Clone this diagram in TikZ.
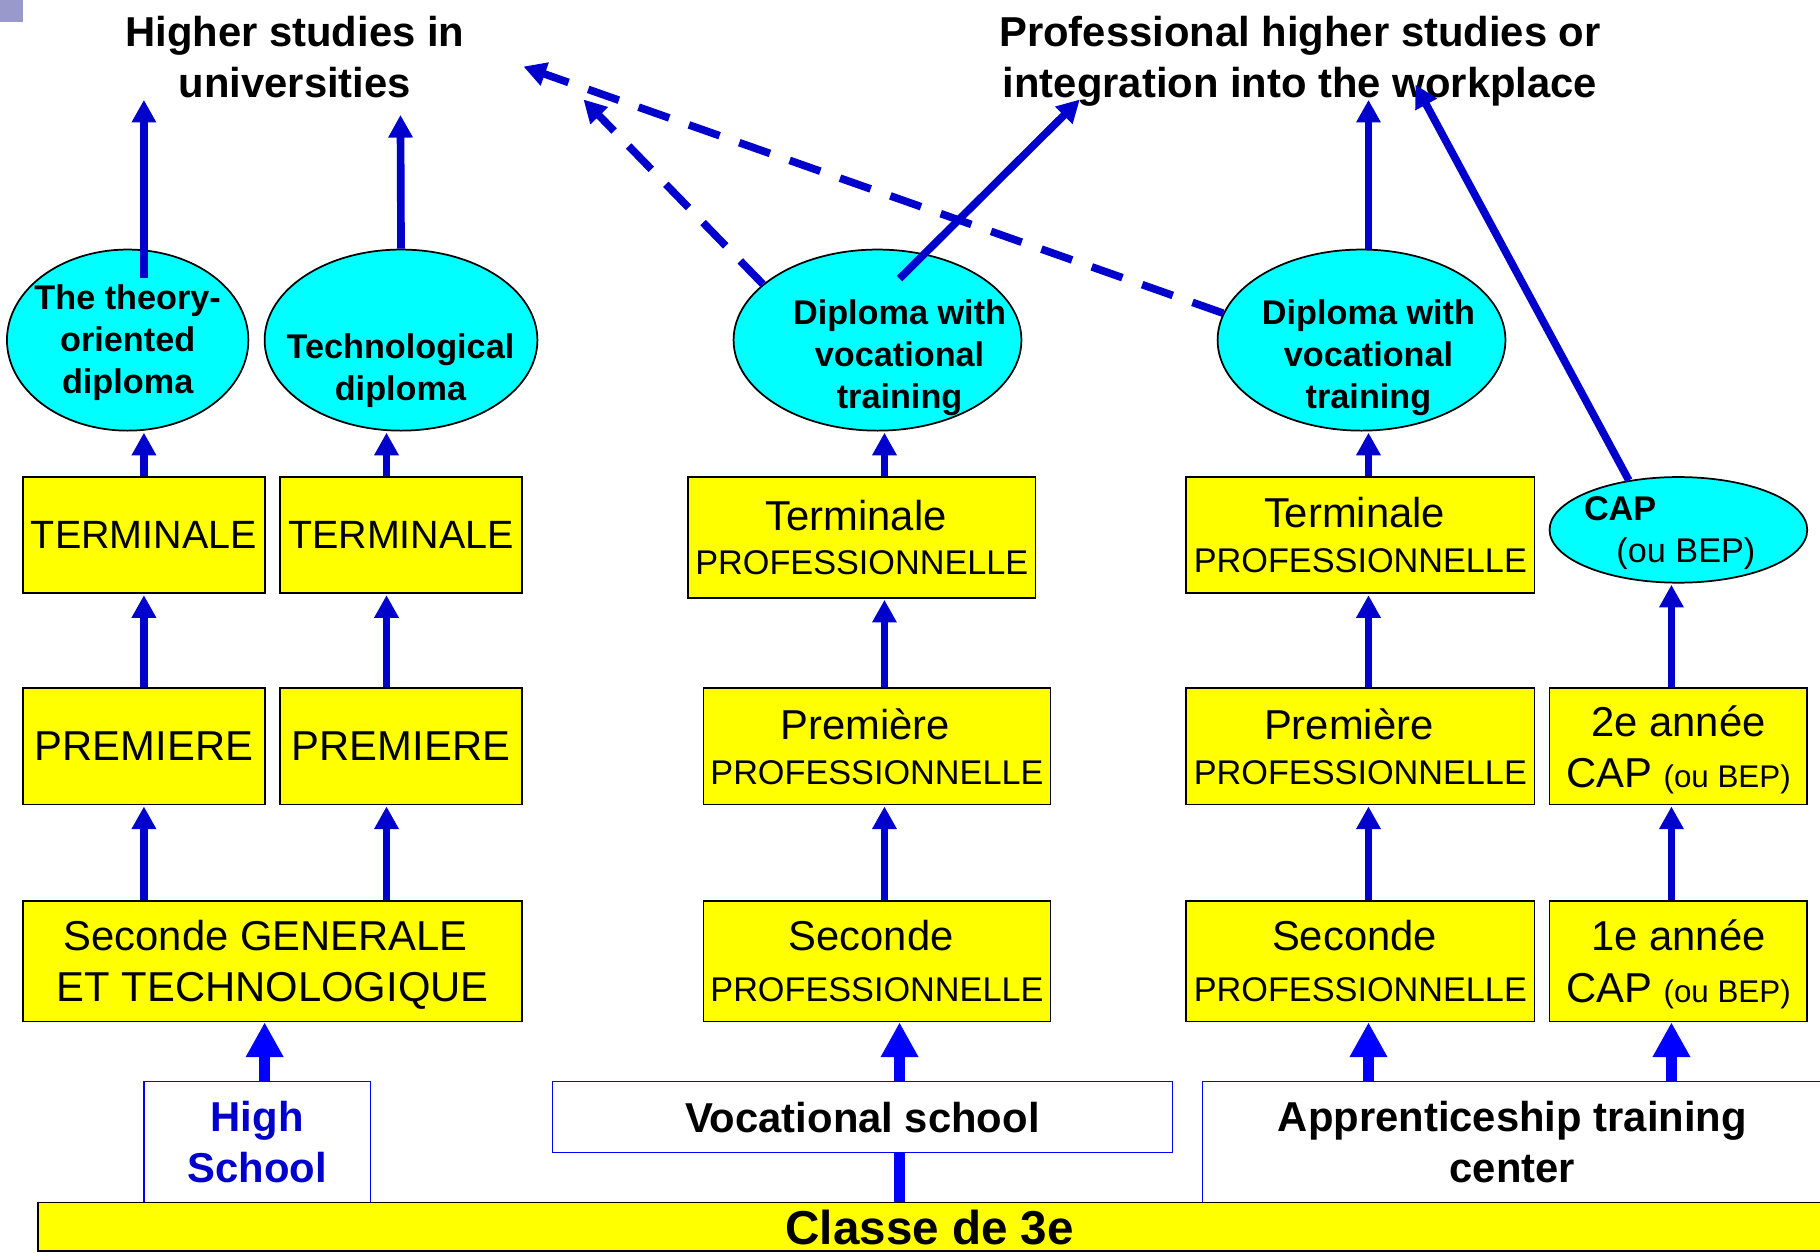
\documentclass[tikz,border=0pt]{standalone}
\usepackage{fontspec}
\setmainfont{Liberation Sans}
\usepackage{tikz}
\usetikzlibrary{arrows.meta}
\usetikzlibrary{shapes}
\usetikzlibrary{calc}

\definecolor{bleu}{RGB}{0,0,204}
\definecolor{bleuvif}{RGB}{0,0,255}
\definecolor{jaune}{RGB}{255,255,0}
\definecolor{turquoise}{RGB}{0,255,255}
\definecolor{lavande}{RGB}{153,153,204}

\newcommand{\grand}{\fontsize{36}{44}\selectfont}
\newcommand{\moyen}{\fontsize{34}{44}\selectfont}
\newcommand{\petit}{\fontsize{29.5}{36}\selectfont}
\newcommand{\mini}{\fontsize{27}{36}\selectfont}
\newcommand{\enorme}{\fontsize{41}{48}\selectfont}

\begin{document}
\begin{tikzpicture}[x=1pt, y=-1pt, >={Triangle[length=19.5pt,width=20pt]}]
    \tikzstyle{classe} = [draw, line width=1.5pt, fill=jaune, inner sep=0pt,
	align=center, font=\grand, text depth=-6pt]
    \tikzstyle{diplome} = [draw, line width=1.5pt, ellipse, fill=turquoise,
	inner sep=0pt]
    \tikzstyle{texte} = [align=center, font=\petit\bfseries, inner sep=0pt]
    \tikzstyle{titre} = [align=center, font=\grand\bfseries, inner sep=0pt]
    \tikzstyle{ecole} = [draw=bleuvif, line width=1pt, fill=white, inner sep=0pt,
	align=center, font=\grand\bfseries, text depth=-6pt]
    \tikzstyle{fleche} = [->, bleu, line width=6.6pt, shorten >=1pt]
    \tikzstyle{tirets} = [fleche, dash pattern=on 28pt off 18pt]
    \tikzstyle{grossefleche} = [-{Triangle[length=30pt,width=30.5pt]}, bleuvif,
	line width=10pt]
    \tikzstyle{trait} = [-, bleuvif, line width=10pt]

    \useasboundingbox (0,0) rectangle (1568,1079);
    \clip (0,0) rectangle (1568,1079);
    \fill[lavande] (0,0) rectangle (20,19);

	\begin{scope}
		\path
			node[titre] (hautes) at (254,49) {Higher studies in\\universities}
			node[titre] (metier) at (1120,53)
				{Professional higher studies or\\integration into the workplace}

			node[diplome, minimum width=208pt, minimum height=156pt] (E1) at (110,293) {}
			node[diplome, minimum width=235pt, minimum height=156pt] (E2) at (345.5,293) {}
			node[diplome, minimum width=248pt, minimum height=156pt] (E3) at (756,293) {}
			node[diplome, minimum width=248pt, minimum height=156pt] (E4) at (1173,293) {}
			node[diplome, minimum width=222pt, minimum height=91pt] (E5) at (1446,456.5) {}

			node[texte] (E1t) at (110,295) {The theory-\\oriented\\diploma}
			node[texte] (E2t) at (345,319) {Technological\\diploma}
			node[texte] (E3t) at (775,308) {Diploma with\\vocational\\training}
			node[texte] (E4t) at (1179,308) {Diploma with\\vocational\\training}
			node[texte, align=left, font=\petit] (E5t) at (1438.5,459)
				{\textbf{CAP}\\\hspace*{28pt}(ou BEP)}

			node[classe, minimum width=208pt, minimum height=100pt] (T1) at (124,461) {\moyen TERMINALE}
			node[classe, minimum width=209pt, minimum height=100pt] (T2) at (345.5,461) {\moyen TERMINALE}
			node[classe, minimum width=299pt, minimum height=104pt] (T3) at (742.5,463)
				{Terminale\hspace*{10pt}\\[-5.5pt]{\petit PROFESSIONNELLE}}
			node[classe, minimum width=300pt, minimum height=100pt] (T4) at (1172,461)
				{Terminale\hspace*{10pt}\\[-5.5pt]{\petit PROFESSIONNELLE}}

			node[classe, minimum width=208pt, minimum height=100pt] (P1) at (124,643) {PREMIERE}
			node[classe, minimum width=209pt, minimum height=100pt] (P2) at (345.5,643) {PREMIERE}
			node[classe, minimum width=299pt, minimum height=100pt] (P3) at (755.5,643)
				{Premi\`ere\hspace*{20pt}\\[-5.5pt]{\petit PROFESSIONNELLE}}
			node[classe, minimum width=300pt, minimum height=100pt] (P4) at (1172,643)
				{Premi\`ere\hspace*{20pt}\\[-5.5pt]{\petit PROFESSIONNELLE}}
			node[classe, minimum width=222pt, minimum height=100pt] (P5) at (1446,643)
				{2e ann\'ee\\CAP {\mini (ou BEP)}}

			node[classe, minimum width=430pt, minimum height=104pt] (S1) at (235,828)
				{Seconde GENERALE\hspace*{12pt}\\ET TECHNOLOGIQUE}
			node[classe, minimum width=299pt, minimum height=104pt] (S3) at (755.5,828)
				{Seconde\hspace*{10pt}\\{\petit PROFESSIONNELLE}}
			node[classe, minimum width=300pt, minimum height=104pt] (S4) at (1172,828)
				{Seconde\hspace*{10pt}\\{\petit PROFESSIONNELLE}}
			node[classe, minimum width=222pt, minimum height=104pt] (S5) at (1446,828)
				{1e ann\'ee\\CAP {\mini (ou BEP)}}

			node[ecole, text=bleu, minimum width=195pt, minimum height=104pt] (HS) at (221.5,984)
				{High\\School}
			node[ecole, minimum width=534pt, minimum height=61pt] (VS) at (743,962.5)
				{Vocational school}
			node[ecole, minimum width=534pt, minimum height=104pt] (AC) at (1303,984)
				{Apprenticeship training\\center}
			node[classe, minimum width=1536pt, minimum height=42pt, font=\enorme\bfseries]
				(C3) at (801,1057) {Classe de 3e}
		;
	\end{scope}

	\coordinate (colA) at (124,0);
	\coordinate (colB) at (333,0);
	\coordinate (colH) at (228,0);
	\coordinate (colC) at (762,0);
	\coordinate (colV) at (775,0);
	\coordinate (colD) at (1179,0);
	\coordinate (colE) at (1440,0);
	\coordinate (uni1) at (124,85);
	\coordinate (uni2) at (345,98);
	\coordinate (uni3) at (502,85);
	\coordinate (uni4) at (450,57);
	\coordinate (pro1) at (931,85);
	\coordinate (pro2) at (1179,85);
	\coordinate (pro3) at (1219,72);

	\path
		(T1.north -| colA) edge[fleche] (E1.south -| colA)
		(P1.north -| colA) edge[fleche] (T1.south -| colA)
		(S1.north -| colA) edge[fleche] (P1.south -| colA)
		(T2.north -| colB) edge[fleche] (E2.south -| colB)
		(P2.north -| colB) edge[fleche] (T2.south -| colB)
		(S1.north -| colB) edge[fleche] (P2.south -| colB)
		(HS.north -| colH) edge[grossefleche] (S1.south -| colH)

		(T3.north -| colC) edge[fleche] (E3.south -| colC)
		(P3.north -| colC) edge[fleche] (T3.south -| colC)
		(S3.north -| colC) edge[fleche] (P3.south -| colC)
		(VS.north -| colV) edge[grossefleche] (S3.south -| colV)
		(C3.north -| colV) edge[trait] (VS.south -| colV)

		(T4.north -| colD) edge[fleche] (E4.south -| colD)
		(P4.north -| colD) edge[fleche] (T4.south -| colD)
		(S4.north -| colD) edge[fleche] (P4.south -| colD)
		(AC.north -| colD) edge[grossefleche] (S4.south -| colD)

		(P5.north -| colE) edge[fleche] (E5.south -| colE)
		(S5.north -| colE) edge[fleche] (P5.south -| colE)
		(AC.north -| colE) edge[grossefleche] (S5.south -| colE)

		($(E1.north -| uni1)+(0,25)$) edge[fleche] (uni1)
		(E2.north) edge[fleche] (uni2)
		(E3.154) edge[tirets] (uni3)
		($(E3.center)+(19,-53)$) edge[fleche] (pro1)
		(E4.169) edge[tirets] (uni4)
		(E4.north -| pro2) edge[fleche] (pro2)
		(E5.135) edge[fleche] (pro3)
	;
\end{tikzpicture}
\end{document}
